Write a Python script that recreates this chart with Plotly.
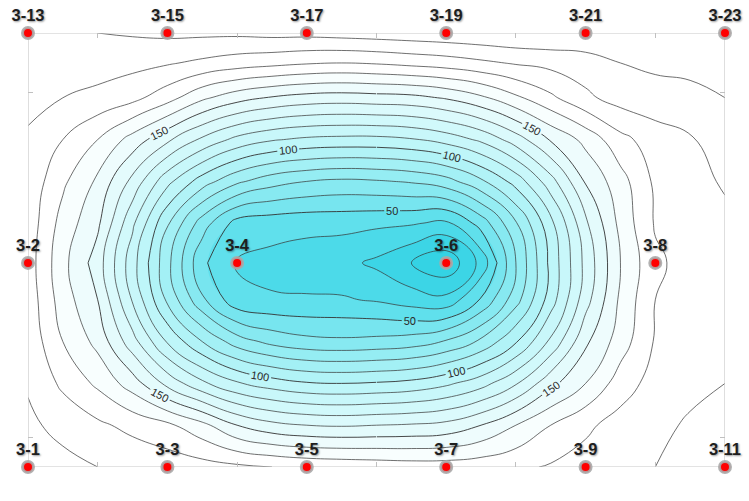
import plotly.graph_objects as go

# ---- well locations (plan coordinates) ----
well_names = ["3-13", "3-15", "3-17", "3-19", "3-21", "3-23",
              "3-2", "3-4", "3-6", "3-8",
              "3-1", "3-3", "3-5", "3-7", "3-9", "3-11"]
well_x = [0, 20, 40, 60, 80, 100,
          0, 30, 60, 90,
          0, 20, 40, 60, 80, 100]
well_y = [62.3, 62.3, 62.3, 62.3, 62.3, 62.3,
          29.3, 29.3, 29.3, 29.3,
          0, 0, 0, 0, 0, 0]

# ---- contour grid (values estimated from the map) ----
grid_x = [0, 5, 10, 15, 20, 25, 30, 35, 40, 45, 50, 55, 60, 65, 70, 75, 80, 85, 90, 95, 100]
grid_y = [0, 6, 12, 18, 24, 29.3, 35, 41, 47, 53, 58, 62.3]
row_y00 = [196, 193, 190, 188, 186, 184, 182, 180, 178, 177, 176, 175, 175, 176, 178, 181, 184, 187, 190, 192, 194]
row_y06 = [192, 187, 182, 177, 172, 163, 150, 143, 140, 139, 140, 141, 143, 150, 160, 170, 178, 184, 188, 191, 192]
row_y12 = [189, 178, 168, 155, 137, 122, 111, 105, 101, 100, 101, 103, 108, 116, 129, 147, 160, 175, 184, 188, 190]
row_y18 = [187, 170, 157, 134, 109, 90, 75, 67, 63, 62, 63, 65, 71, 82, 99, 122, 148, 165, 181, 185, 188]
row_y24 = [186, 165, 150, 119, 88, 62, 43, 41, 41, 41, 39, 35, 33, 51, 76, 105, 136, 162, 180, 185, 187]
row_y29 = [185, 163, 145, 114, 83, 52, 39, 37, 35, 33, 28, 20, 12, 33, 70, 103, 133, 160, 178, 184, 186]
row_y35 = [186, 166, 152, 122, 91, 65, 46, 44, 43, 43, 42, 41, 38, 54, 79, 107, 138, 163, 181, 185, 188]
row_y41 = [187, 172, 158, 137, 113, 95, 82, 74, 70, 68, 69, 71, 76, 88, 104, 126, 151, 166, 182, 187, 191]
row_y47 = [189, 180, 170, 156, 142, 128, 117, 111, 108, 107, 107, 109, 114, 122, 135, 151, 163, 177, 185, 189, 195]
row_y53 = [192, 190, 187, 183, 174, 162, 154, 149, 146, 145, 146, 147, 151, 158, 168, 178, 188, 194, 196, 197, 200]
row_y58 = [195, 195, 195, 193, 191, 188, 185, 183, 181, 180, 181, 183, 185, 188, 191, 193, 195, 200, 202, 203, 205]
row_y62 = [198, 199, 200, 201, 202, 202, 202, 203, 203, 204, 205, 206, 207, 208, 209, 209, 209, 209, 208, 207, 206]
grid_z = [row_y00, row_y06, row_y12, row_y18, row_y24, row_y29,
          row_y35, row_y41, row_y47, row_y53, row_y58, row_y62]

x_range = [grid_x[0], grid_x[-1]]
y_range = [grid_y[0], grid_y[-1]]

line_col = "rgba(55,55,55,0.8)"
SMOOTH = 1.3
cscale = [
    [0.0, "rgb(52,211,228)"],
    [0.105, "rgb(82,220,234)"],
    [0.21, "rgb(125,231,240)"],
    [0.47, "rgb(190,246,249)"],
    [0.74, "rgb(236,252,253)"],
    [0.84, "rgb(255,255,255)"],
    [1.0, "rgb(255,255,255)"],
]

fig = go.Figure()
# filled bands
fig.add_trace(go.Contour(
    x=grid_x, y=grid_y, z=grid_z,
    colorscale=cscale, zmin=10, zmax=200, showscale=False,
    contours=dict(start=20, end=210, size=10, coloring="fill"),
    line=dict(width=0, smoothing=SMOOTH), hoverinfo="skip",
))
# unlabeled contour lines
for s, e in [(20, 40), (60, 90), (110, 140), (160, 210)]:
    fig.add_trace(go.Contour(
        x=grid_x, y=grid_y, z=grid_z, showscale=False,
        contours=dict(start=s, end=e, size=10, coloring="none"),
        line=dict(width=0.9, color=line_col, smoothing=SMOOTH), hoverinfo="skip",
    ))


# labeled contour lines, drawn per part of the grid so each part carries its own label
def sub(i0, i1, j0, j1):
    return grid_x[j0:j1 + 1], grid_y[i0:i1 + 1], [r[j0:j1 + 1] for r in grid_z[i0:i1 + 1]]


mid_i = grid_y.index(29.3)
last_i, last_j = len(grid_y) - 1, len(grid_x) - 1
parts = [
    (50, 50, (mid_i, last_i, 0, last_j)),
    (50, 50, (0, mid_i, 0, last_j)),
    (100, 150, (mid_i, last_i, 0, 10)),
    (100, 150, (mid_i, last_i, 10, last_j)),
    (100, 150, (0, mid_i, 0, 10)),
    (100, 150, (0, mid_i, 10, last_j)),
]
for s, e, idx in parts:
    px_, py_, pz_ = sub(*idx)
    fig.add_trace(go.Contour(
        x=px_, y=py_, z=pz_, showscale=False,
        colorscale=[[0, "#333333"], [1, "#333333"]],
        contours=dict(start=s, end=e, size=50, coloring="lines", showlabels=True,
                      labelfont=dict(family="Arial", size=11, color="#2a2a2a")),
        line=dict(width=0.9, smoothing=SMOOTH), hoverinfo="skip",
    ))

# plot frame (drawn under the well symbols)
fig.add_trace(go.Scatter(
    x=[x_range[0], x_range[1], x_range[1], x_range[0], x_range[0]],
    y=[y_range[0], y_range[0], y_range[1], y_range[1], y_range[0]],
    mode="lines", line=dict(color="#c8c8c8", width=1.2), cliponaxis=False,
    hoverinfo="skip",
))

# wells
fig.add_trace(go.Scatter(
    x=well_x, y=well_y, mode="markers+text", text=well_names,
    textposition="top center", cliponaxis=False,
    marker=dict(size=11, color="#FF0000", line=dict(color="rgba(170,170,170,0.9)", width=3)),
    textfont=dict(family="Arial", size=16.5, color="#1e1e1e", weight="bold",
                  shadow="1px 1px 2px rgba(0,0,0,0.4)"),
    hoverinfo="skip",
))

axis_common = dict(showgrid=False, zeroline=False, showticklabels=False,
                   showline=False, mirror="ticks",
                   ticks="inside", ticklen=5, tickcolor="#c0c0c0")
fig.update_xaxes(range=x_range, tickvals=[10, 30, 50, 70, 90], **axis_common)
fig.update_yaxes(range=y_range, tickvals=[4.3, 53.7], **axis_common)
fig.update_layout(
    width=749, height=501,
    margin=dict(l=28, r=24, t=33, b=34),
    paper_bgcolor="white", plot_bgcolor="white",
    showlegend=False,
)
fig.write_html("out.html", config={"displayModeBar": False},
               post_script="document.body.style.margin='0';")
